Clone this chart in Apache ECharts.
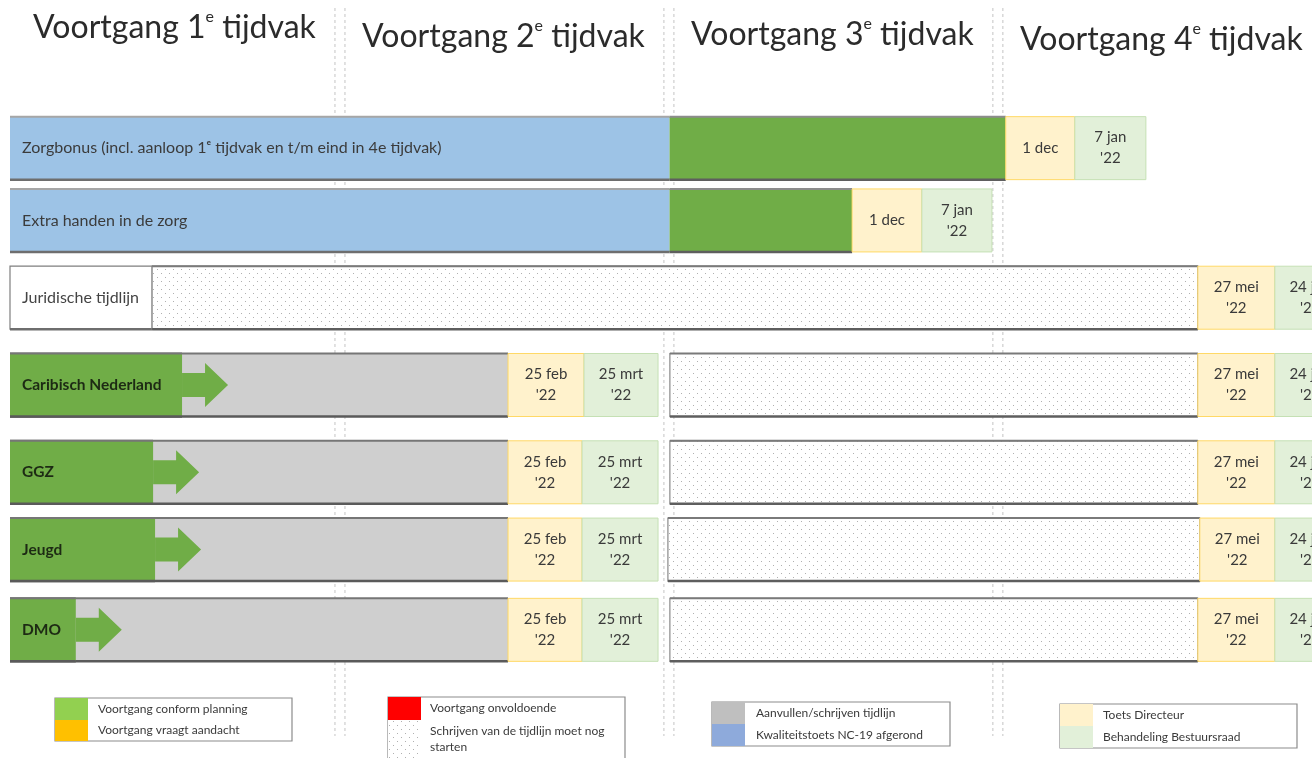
<!DOCTYPE html>
<html>
<head>
<meta charset="utf-8">
<title>Voortgang tijdvakken</title>
<script src="https://cdn.jsdelivr.net/npm/echarts@6/dist/echarts.min.js"></script>
<style>
  html, body { margin: 0; padding: 0; background: #fff; }
  #chart { width: 1312px; height: 758px; }
</style>
</head>
<body>
<div id="chart"></div>
<script>
/* data: rows, tijdvakken and the segments, in tenths of a tijdvak (1 tijdvak = 10) */
var rows = [
  'Zorgbonus (incl. aanloop 1\u1d49 tijdvak en t/m eind in 4e tijdvak)',
  'Extra handen in de zorg',
  'Juridische tijdlijn',
  'Caribisch Nederland',
  'GGZ',
  'Jeugd',
  'DMO'
];
var tijdvakken = ['1', '2', '3', '4'];
var grenzen = [10, 20, 30];

// [row, start, end]
var kwaliteitstoets = [[0, 0, 20.05], [1, 0, 20.05]];
var conform = [[0, 20.05, 30.27], [1, 20.05, 25.6]];
var labelvak = [[2, 0, 4.32]];
var aanvullen = [[3, 0, 15.14], [4, 0, 15.14], [5, 0, 15.14], [6, 0, 15.14]];
var voortgang = [[3, 0, 5.23], [4, 0, 4.35], [5, 0, 4.41], [6, 0, 2.0]];
var nogStarten = [[2, 4.32, 36.11], [3, 20.06, 36.11], [4, 20.06, 36.11], [5, 20.0, 36.17], [6, 20.06, 36.11]];
// [row, start, end, datum]
var toetsDirecteur = [
  [0, 30.27, 32.37, '1 dec'],
  [1, 25.6, 27.72, '1 dec'],
  [2, 36.11, 38.45, "27 mei\n'22"],
  [3, 15.14, 17.45, "25 feb\n'22"],
  [4, 15.14, 17.39, "25 feb\n'22"],
  [5, 15.14, 17.39, "25 feb\n'22"],
  [6, 15.14, 17.39, "25 feb\n'22"],
  [3, 36.11, 38.45, "27 mei\n'22"],
  [4, 36.11, 38.45, "27 mei\n'22"],
  [5, 36.17, 38.45, "27 mei\n'22"],
  [6, 36.11, 38.45, "27 mei\n'22"]
];
var bestuursraad = [
  [0, 32.37, 34.53, "7 jan\n'22"],
  [1, 27.72, 29.85, "7 jan\n'22"],
  [2, 38.45, 40.6, "24 jun\n'22"],
  [3, 17.45, 19.7, "25 mrt\n'22"],
  [4, 17.39, 19.7, "25 mrt\n'22"],
  [5, 17.39, 19.7, "25 mrt\n'22"],
  [6, 17.39, 19.7, "25 mrt\n'22"],
  [3, 38.45, 40.6, "24 jun\n'22"],
  [4, 38.45, 40.6, "24 jun\n'22"],
  [5, 38.45, 40.6, "24 jun\n'22"],
  [6, 38.45, 40.6, "24 jun\n'22"]
];

var legendaTeksten = [
  ['Voortgang conform planning', 'Voortgang vraagt aandacht'],
  ['Voortgang onvoldoende', 'Schrijven van de tijdlijn moet nog\nstarten'],
  ['Aanvullen/schrijven tijdlijn', 'Kwaliteitstoets NC-19 afgerond'],
  ['Toets Directeur', 'Behandeling Bestuursraad']
];

/* layout */
var FONT = 'Lato, "Open Sans", sans-serif';
var rowShift = [0, -8, -11, -4, 3, 0, 0];
var headerY = [28, 37, 35, 40];
var BAR_H = 63;
var ZICHTBAAR = 39.58; // the slide is cut off inside the 4e tijdvak

function stippel() {
  var c = document.createElement('canvas');
  c.width = 8; c.height = 8;
  var g = c.getContext('2d');
  g.fillStyle = '#ffffff';
  g.fillRect(0, 0, 8, 8);
  g.fillStyle = '#b0b0b0';
  g.fillRect(1, 1, 1, 1);
  g.fillRect(5, 5, 1, 1);
  return c;
}
var dots = { image: stippel(), repeat: 'repeat' };

function balk(bron, stijl) {
  return function (params, api) {
    var item = bron[params.dataIndex];
    var r = item[0];
    var p0 = api.coord([item[1], r]);
    var p1 = api.coord([item[2], r]);
    var x = p0[0], w = p1[0] - p0[0];
    var cy = p0[1] + rowShift[r];
    var y = cy - BAR_H / 2;
    var kids = [{
      type: 'rect',
      shape: { x: x, y: y, width: w, height: BAR_H },
      style: { fill: stijl.fill, stroke: stijl.stroke || null, lineWidth: stijl.lw || 0 }
    }];
    if (stijl.top) {
      kids.push({ type: 'line', shape: { x1: x, y1: y, x2: x + w, y2: y },
        style: { stroke: stijl.top, lineWidth: 2 } });
    }
    if (stijl.bottom) {
      kids.push({ type: 'line', shape: { x1: x, y1: y + BAR_H, x2: x + w, y2: y + BAR_H },
        style: { stroke: stijl.bottom, lineWidth: 2.5 } });
    }
    if (stijl.arrow) {
      var a = p1[0];
      kids.push({ type: 'polygon',
        shape: { points: [[a, cy - 12], [a + 23, cy - 12], [a + 23, cy - 22], [a + 46, cy],
          [a + 23, cy + 22], [a + 23, cy + 12], [a, cy + 12]] },
        style: { fill: '#70ad47' } });
    }
    if (stijl.rowLabel) {
      kids.push({ type: 'text', style: {
        text: rows[r], x: x + 12, y: cy, align: 'left', verticalAlign: 'middle',
        fill: stijl.labelColor, fontFamily: FONT, fontSize: stijl.labelSize,
        fontWeight: stijl.labelWeight || 'normal' } });
    }
    if (item[3]) {
      kids.push({ type: 'text', style: {
        text: item[3], x: x + w / 2, y: cy, align: 'center', verticalAlign: 'middle',
        fill: '#3a3a3a', fontFamily: FONT, fontSize: 15, lineHeight: 21 } });
    }
    return { type: 'group', children: kids };
  };
}

function reeks(naam, bron, stijl) {
  return {
    name: naam,
    type: 'custom',
    z: 3,
    clip: false,
    renderItem: balk(bron, stijl),
    encode: { x: [1, 2], y: 0 },
    data: bron.map(function (d) { return [d[0], d[1], d[2]]; })
  };
}

var chart = echarts.init(document.getElementById('chart'));

var series = [
  {
    name: 'grenzen',
    type: 'custom',
    z: 1,
    silent: true,
    encode: { x: 0 },
    data: grenzen.map(function (g) { return [g]; }),
    renderItem: function (params, api) {
      var gx = api.coord([api.value(0), 0])[0];
      var lijn = function (x) {
        return { type: 'line', shape: { x1: x, y1: 8, x2: x, y2: 736 },
          style: { stroke: '#c4c4c4', lineWidth: 1, lineDash: [3, 3] } };
      };
      return { type: 'group', children: [lijn(gx - 4), lijn(gx + 6)] };
    }
  },
  {
    name: 'tijdvakken',
    type: 'custom',
    z: 2,
    silent: true,
    encode: { x: 0 },
    data: tijdvakken.map(function (t, i) { return [i * 10 + 5]; }),
    renderItem: function (params, api) {
      var cx = api.coord([api.value(0), 0])[0];
      var i = params.dataIndex;
      return {
        type: 'text',
        style: {
          text: '{n|Voortgang ' + tijdvakken[i] + '}{e|e}{n| tijdvak}',
          x: cx, y: headerY[i], align: 'center', verticalAlign: 'middle',
          rich: {
            n: { fontFamily: FONT, fontSize: 32, lineHeight: 38, fill: '#2b2b2b' },
            e: { fontFamily: FONT, fontSize: 16, lineHeight: 24, verticalAlign: 'top', fill: '#2b2b2b' }
          }
        }
      };
    }
  },
  reeks('Kwaliteitstoets NC-19 afgerond', kwaliteitstoets,
    { fill: '#9dc3e6', top: '#a6a6a6', bottom: '#6e6e6e', rowLabel: true, labelColor: '#3b3b3b', labelSize: 16 }),
  reeks('Voortgang conform planning', conform,
    { fill: '#70ad47', top: '#8c8c8c', bottom: '#5e5e5e' }),
  reeks('Label', labelvak,
    { fill: '#ffffff', stroke: '#7f7f7f', lw: 1.2, bottom: '#6e6e6e', rowLabel: true, labelColor: '#444444', labelSize: 16 }),
  reeks('Aanvullen/schrijven tijdlijn', aanvullen,
    { fill: '#cfcfcf', top: '#767676', bottom: '#5a5a5a' }),
  reeks('Schrijven van de tijdlijn moet nog starten', nogStarten,
    { fill: dots, stroke: '#8a8a8a', lw: 1.2, top: '#7a7a7a', bottom: '#5e5e5e' }),
  reeks('Voortgang', voortgang,
    { fill: '#70ad47', top: '#767676', bottom: '#5a5a5a', arrow: true, rowLabel: true,
      labelColor: '#1d2a14', labelSize: 15.5, labelWeight: 'bold' }),
  reeks('Toets Directeur', toetsDirecteur,
    { fill: '#fff2cc', stroke: '#ffd966', lw: 1 }),
  reeks('Behandeling Bestuursraad', bestuursraad,
    { fill: '#e2f0d9', stroke: '#c5e0b4', lw: 1 })
];

/* legend boxes: [x, y, width, h1, h2, textX] */
var legendaVakken = [
  [55, 698, 237, 22, 21, 98],
  [388, 697, 237, 23, 40, 430],
  [712, 702, 238, 22, 22, 756],
  [1060, 704, 237, 22, 22, 1103]
];
var legendaKleuren = [['#92d050', '#ffc000'], ['#ff0000', dots], ['#bfbfbf', '#8eaadb'], ['#fff2cc', '#e2f0d9']];

var graphic = [];
legendaVakken.forEach(function (v, i) {
  var x = v[0], y = v[1], w = v[2], h1 = v[3], h2 = v[4], tx = v[5];
  graphic.push({ type: 'rect', shape: { x: x, y: y, width: w, height: h1 + h2 },
    style: { fill: '#fff', stroke: '#8c8c8c', lineWidth: 1.2 } });
  graphic.push({ type: 'rect', shape: { x: x, y: y, width: 33, height: h1 },
    style: { fill: legendaKleuren[i][0] } });
  graphic.push({ type: 'rect', shape: { x: x, y: y + h1, width: 33, height: h2 },
    style: { fill: legendaKleuren[i][1] } });
  graphic.push({ type: 'text', style: { text: legendaTeksten[i][0], x: tx, y: y + h1 / 2,
    verticalAlign: 'middle', fill: '#3a3a3a', fontFamily: FONT, fontSize: 12 } });
  graphic.push({ type: 'text', style: { text: legendaTeksten[i][1], x: tx,
    y: i === 1 ? y + h1 + 3 : y + h1 + h2 / 2, verticalAlign: i === 1 ? 'top' : 'middle',
    lineHeight: 16, fill: '#3a3a3a', fontFamily: FONT, fontSize: 12 } });
});

chart.setOption({
  animation: false,
  backgroundColor: '#ffffff',
  grid: { left: 10, right: 0, top: 108, bottom: 88 },
  xAxis: { type: 'value', min: 0, max: ZICHTBAAR, show: false },
  yAxis: { type: 'category', data: rows, inverse: true, show: false },
  graphic: graphic,
  series: series
});
</script>
</body>
</html>
